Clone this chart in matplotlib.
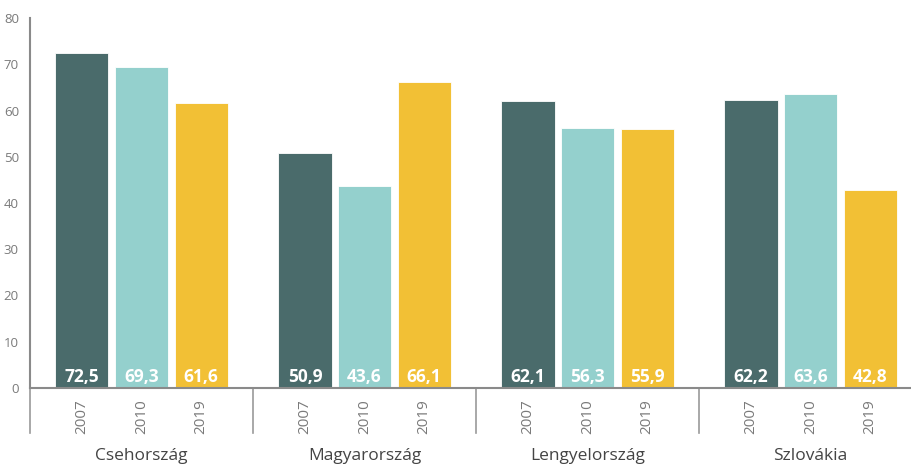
import matplotlib
matplotlib.use("Agg")
import matplotlib.pyplot as plt
import numpy as np

# adatok
orszagok = ["Csehország", "Magyarország", "Lengyelország", "Szlovákia"]
evek = ["2007", "2010", "2019"]
ertek_2007 = [72.5, 50.9, 62.1, 62.2]
ertek_2010 = [69.3, 43.6, 56.3, 63.6]
ertek_2019 = [61.6, 66.1, 55.9, 42.8]
szinek = ["#4a6b6b", "#94d0cd", "#f2c035"]

plt.rcParams['font.family'] = ['Open Sans', 'DejaVu Sans']
szurke = "#7a7a7a"

fig = plt.figure(figsize=(9.12, 4.67), dpi=100)
ax = fig.add_axes([30/912, 79/467, 882/912, 370/467])

x = np.arange(len(orszagok))
eltolas = 0.267
szel = 0.238
sorok = [ertek_2007, ertek_2010, ertek_2019]
for i, (sor, szin) in enumerate(zip(sorok, szinek)):
    pos = x + (i - 1) * eltolas
    ax.bar(pos, sor, width=szel, color=szin, edgecolor='white', linewidth=0.6, zorder=2)
    for p, v in zip(pos, sor):
        ax.text(p, 0.4, ("%.1f" % v).replace(".", ","), ha='center', va='bottom',
                color='white', fontsize=12.5, fontweight='bold', zorder=3)
    # év feliratok
    for p in pos:
        ax.text(p, -2.4, evek[i], rotation=90, ha='center', va='top',
                color=szurke, fontsize=11, clip_on=False)

ax.set_xlim(-0.5, 3.455)
ax.set_ylim(0, 80)
ax.set_yticks(range(0, 81, 10))
ax.tick_params(axis='y', length=0, labelsize=9.5, labelcolor=szurke, pad=8)
ax.set_xticks([])

for s in ['top', 'right']:
    ax.spines[s].set_visible(False)
ax.spines['left'].set_color("#8a8a8a")
ax.spines['left'].set_linewidth(1.5)
ax.spines['bottom'].set_color("#8a8a8a")
ax.spines['bottom'].set_linewidth(1.5)

# csoport elválasztók
for hatar in [-0.5, 0.5, 1.5, 2.5]:
    ax.plot([hatar, hatar], [0, -9.8], color="#9a9a9a", linewidth=1.2, clip_on=False)

for xi, nev in zip(x, orszagok):
    ax.text(xi, -14.6, nev, ha='center', va='center', color="#444444",
            fontsize=12.5, clip_on=False)

fig.savefig("out.png", dpi=100)
